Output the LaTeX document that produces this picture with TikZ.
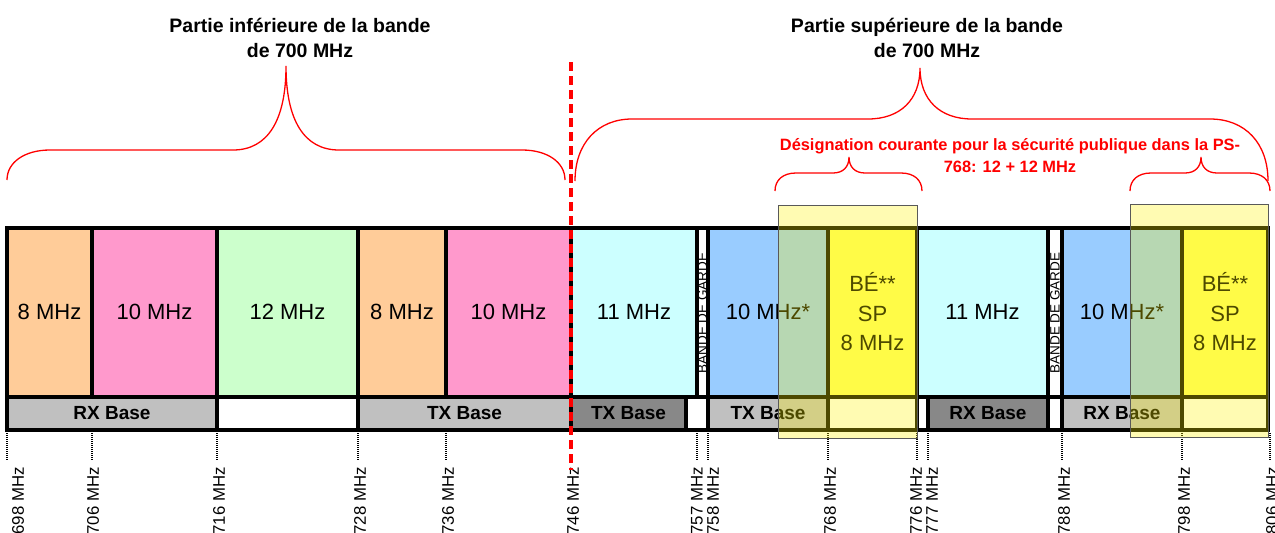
\documentclass[tikz,border=0pt]{standalone}
\usepackage{fontspec}
\setmainfont{Liberation Sans}
\definecolor{corange}{RGB}{255,204,153}
\definecolor{cpink}{RGB}{255,153,204}
\definecolor{cgreen}{RGB}{204,255,204}
\definecolor{ccyan}{RGB}{204,255,255}
\definecolor{cblue}{RGB}{153,204,255}
\definecolor{cyellow}{RGB}{255,255,102}
\definecolor{clgray}{RGB}{192,192,192}
\definecolor{cdgray}{RGB}{136,136,136}
\definecolor{cred}{RGB}{255,0,0}
\begin{document}
\begin{tikzpicture}[x=1pt,y=-1pt,
  gridline/.style={line width=3.6pt},
  tickline/.style={line width=1.6pt, dash pattern=on 1pt off 1pt},
  flab/.style={rotate=90, anchor=east, inner sep=0pt, font=\fontsize{16.8}{16.8}\selectfont},
  ctext/.style={align=center, inner sep=0pt, font=\fontsize{22}{29.5}\selectfont},
  btext/.style={inner sep=0pt, font=\bfseries\fontsize{19}{20}\selectfont},
  gtext/.style={rotate=90, inner sep=0pt, font=\fontsize{13.5}{14}\selectfont},
  ttext/.style={align=center, inner sep=0pt, font=\bfseries\fontsize{19.5}{25}\selectfont},
  rtext/.style={align=center, inner sep=0pt, text=cred, font=\bfseries\fontsize{16.4}{22}\selectfont},
  bracel/.style={cred, line width=1.3pt},
  ovl/.style={fill=yellow, fill opacity=0.3, draw=black!65, line width=0.8pt}]
\useasboundingbox (0,0) rectangle (1275,533);
% top row fills
\fill[corange] (7,228) rectangle (92,397);
\fill[cpink] (92,228) rectangle (217,397);
\fill[cgreen] (217,228) rectangle (358,397);
\fill[corange] (358,228) rectangle (446,397);
\fill[cpink] (446,228) rectangle (571,397);
\fill[ccyan] (571,228) rectangle (697,397);
\fill[cblue] (708,228) rectangle (828,397);
\fill[cyellow] (828,228) rectangle (917,397);
\fill[ccyan] (917,228) rectangle (1048,397);
\fill[cblue] (1062,228) rectangle (1182,397);
\fill[cyellow] (1182,228) rectangle (1268,397);
% bottom row fills
\fill[clgray] (7,397) rectangle (217,430);
\fill[clgray] (358,397) rectangle (571,430);
\fill[cdgray] (571,397) rectangle (686,430);
\fill[clgray] (708,397) rectangle (828,430);
\fill[cdgray] (928,397) rectangle (1048,430);
\fill[clgray] (1062,397) rectangle (1182,430);
% grid
\draw[gridline] (7,228) rectangle (1268,430);
\draw[gridline] (7,397) -- (1268,397);
\foreach \x in {92,217,358,446,571,697,708,828,917,1048,1062,1182}
  \draw[gridline] (\x,228) -- (\x,397);
\foreach \x in {217,358,571,686,708,828,917,928,1048,1062,1182}
  \draw[gridline] (\x,397) -- (\x,430);
% cell texts
\node[ctext] (a1) at (49.5,312) {8 MHz};
\node[ctext] (a2) at (154.5,312) {10 MHz};
\node[ctext] (a3) at (287.5,312) {12 MHz};
\node[ctext] (a4) at (402,312) {8 MHz};
\node[ctext] (a5) at (508.5,312) {10 MHz};
\node[ctext] (a6) at (634,312) {11 MHz};
\node[gtext] (g1) at (702.5,313) {BANDE DE GARDE};
\node[ctext] (a7) at (768,312) {10 MHz*};
\node[ctext] (a8) at (872.5,312) {BÉ**\\SP\\8 MHz};
\node[ctext] (a9) at (982.5,312) {11 MHz};
\node[gtext] (g2) at (1055,313) {BANDE DE GARDE};
\node[ctext] (a10) at (1122,312) {10 MHz*};
\node[ctext] (a11) at (1225,312) {BÉ**\\SP\\8 MHz};
% bottom labels
\node[btext] (b1) at (112,413.5) {RX Base};
\node[btext] (b2) at (464.5,413.5) {TX Base};
\node[btext] (b3) at (628.5,413.5) {TX Base};
\node[btext] (b4) at (768,413.5) {TX Base};
\node[btext] (b5) at (988,413.5) {RX Base};
\node[btext] (b6) at (1122,413.5) {RX Base};
% ticks and frequency labels
\foreach \x in {7,92,217,358,446,697,708,828,917,928,1062,1182,1270}
  \draw[tickline] (\x,433) -- (\x,460);
\foreach \x/\t in {18/698,93/706,219/716,360/728,448/736,573/746,697/757,713/758,830/768,916/776,932/777,1064/788,1184/798,1272/806}
  \node[flab] at (\x,467) {\t\ MHz};
% red dashed separator
\draw[cred, line width=3.5pt, dash pattern=on 9pt off 5pt] (571,62) -- (571,470);
% titles
\node[ttext] (t1) at (300,37.5) {Partie inférieure de la bande\\de 700 MHz};
\node[ttext] (t2) at (927,37.5) {Partie supérieure de la bande\\de 700 MHz};
\node[rtext] (t3) at (1010,156) {Désignation courante pour la sécurité publique dans la PS-\\768: 12 + 12 MHz};
% braces
\draw[bracel] (7,180) .. controls (7,162) and (25,150) .. (50,150) -- (233,150)
  .. controls (268,150) and (286,120) .. (286,66)
  .. controls (286,120) and (304,150) .. (339,150) -- (522,150)
  .. controls (547,150) and (565,162) .. (565,180);
\draw[bracel] (575,181) .. controls (575,143) and (598,119) .. (632,119) -- (868,119)
  .. controls (900,119) and (920,100) .. (920,68)
  .. controls (920,100) and (940,119) .. (972,119) -- (1210,119)
  .. controls (1245,119) and (1268,143) .. (1268,181);
\draw[bracel] (775,191) .. controls (775,180) and (783,173) .. (796,173) -- (833,173)
  .. controls (843,173) and (849,167) .. (849,157)
  .. controls (849,167) and (855,173) .. (865,173) -- (901,173)
  .. controls (914,173) and (922,180) .. (922,191);
\draw[bracel] (1130,191) .. controls (1130,180) and (1138,173) .. (1151,173) -- (1185,173)
  .. controls (1195,173) and (1201,167) .. (1201,157)
  .. controls (1201,167) and (1207,173) .. (1217,173) -- (1249,173)
  .. controls (1262,173) and (1270,180) .. (1270,191);
% overlays
\draw[ovl] (778,205) rectangle (917,438);
\draw[ovl] (1130,204) rectangle (1268,437);
\end{tikzpicture}
\end{document}
